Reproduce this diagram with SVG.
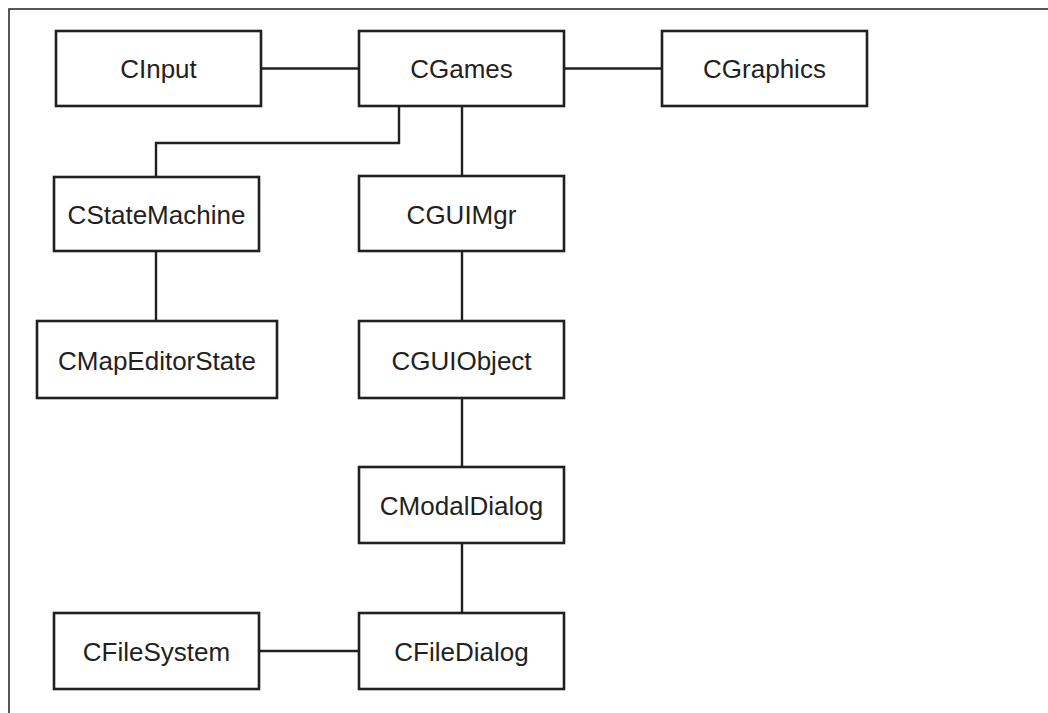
<svg xmlns="http://www.w3.org/2000/svg" width="1048" height="713" viewBox="0 0 1048 713">
<style>
.box{fill:#fff;stroke:#231f20;stroke-width:2.6}
.lbl{font-family:"Liberation Sans",Arial,sans-serif;font-size:26px;fill:#231f20;text-anchor:middle}
.con{fill:none;stroke:#231f20;stroke-width:2.4}
.frame{fill:none;stroke:#231f20;stroke-width:1.5}
</style>
<rect width="1048" height="713" fill="#fff"/>
<path class="frame" d="M9,713 V9 H1048"/>
<g id="connectors">
<path class="con" d="M261,68.5 H359"/>
<path class="con" d="M564,68.5 H662"/>
<path class="con" d="M399,106 V143 H156 V177"/>
<path class="con" d="M462,106 V176"/>
<path class="con" d="M156,251 V321"/>
<path class="con" d="M462,251 V321"/>
<path class="con" d="M462,398 V467"/>
<path class="con" d="M462,543 V613"/>
<path class="con" d="M259,651 H359"/>
</g>
<g id="CInput"><rect class="box" x="56" y="31" width="205" height="75"/><text class="lbl" x="158.5" y="78">CInput</text></g>
<g id="CGames"><rect class="box" x="359" y="31" width="205" height="75"/><text class="lbl" x="461.5" y="78">CGames</text></g>
<g id="CGraphics"><rect class="box" x="662" y="31" width="205" height="75"/><text class="lbl" x="764.5" y="78">CGraphics</text></g>
<g id="CStateMachine"><rect class="box" x="54" y="177" width="205" height="74"/><text class="lbl" x="156.5" y="223.5">CStateMachine</text></g>
<g id="CGUIMgr"><rect class="box" x="359" y="176" width="205" height="75"/><text class="lbl" x="461.5" y="223.5">CGUIMgr</text></g>
<g id="CMapEditorState"><rect class="box" x="37" y="321" width="240" height="77"/><text class="lbl" x="157" y="369.5">CMapEditorState</text></g>
<g id="CGUIObject"><rect class="box" x="359" y="321" width="205" height="77"/><text class="lbl" x="461.5" y="369.5">CGUIObject</text></g>
<g id="CModalDialog"><rect class="box" x="359" y="467" width="205" height="76"/><text class="lbl" x="461.5" y="514.5">CModalDialog</text></g>
<g id="CFileSystem"><rect class="box" x="54" y="613" width="205" height="76"/><text class="lbl" x="156.5" y="660.5">CFileSystem</text></g>
<g id="CFileDialog"><rect class="box" x="359" y="613" width="205" height="76"/><text class="lbl" x="461.5" y="660.5">CFileDialog</text></g>
</svg>
